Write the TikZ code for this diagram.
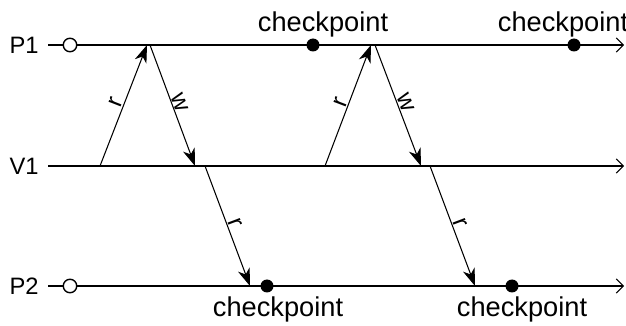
\documentclass[tikz,border=0pt]{standalone}
\usepackage{fontspec}
\setmainfont{Liberation Sans}
\usetikzlibrary{arrows.meta,positioning}

\begin{document}
\begin{tikzpicture}[
    proc/.style={
        font=\fontsize{13.5}{15}\selectfont,
        anchor=east,
        inner xsep=0.18cm,
        inner ysep=0pt
    },
    timeline/.style={
        -{Straight Barb[length=4pt,width=8pt]},
        line width=0.6pt
    },
    msg/.style={
        -{Stealth[length=10pt,width=7pt,inset=3pt]},
        line width=0.6pt
    },
    msglabel/.style={
        font=\fontsize{14}{15}\selectfont,
        midway,
        above,
        sloped,
        inner sep=0.5pt
    },
    initstate/.style={
        circle,
        draw,
        fill=white,
        line width=0.8pt,
        minimum size=0.27cm,
        inner sep=0pt
    },
    cp/.style={
        circle,
        fill=black,
        minimum size=0.26cm,
        inner sep=0pt
    },
    cplabel/.style={
        font=\fontsize{15.5}{17}\selectfont,
        anchor=base,
        inner sep=0pt
    }
]

\useasboundingbox (0,0) rectangle (12.52,6.52);

% process names
\node[proc] (P1) at (0.96,5.62) {P1};
\node[proc] (V1) at (0.96,3.2) {V1};
\node[proc] (P2) at (0.96,0.8) {P2};

\coordinate (P1end) at (12.48,5.62);
\coordinate (V1end) at (12.48,3.2);
\coordinate (P2end) at (12.48,0.8);

\draw[timeline] (P1.east) -- (P1end);
\draw[timeline] (V1.east) -- (V1end);
\draw[timeline] (P2.east) -- (P2end);

% messages
\coordinate (r1s) at (2.0,3.2);
\coordinate (r1e) at (2.94,5.62);
\coordinate (w1s) at (3.0,5.62);
\coordinate (w1e) at (3.9,3.2);
\coordinate (r2s) at (4.1,3.2);
\coordinate (r2e) at (5.0,0.8);

\coordinate (r3s) at (6.5,3.2);
\coordinate (r3e) at (7.42,5.62);
\coordinate (w2s) at (7.5,5.62);
\coordinate (w2e) at (8.42,3.2);
\coordinate (r4s) at (8.6,3.2);
\coordinate (r4e) at (9.5,0.8);

\draw[msg] (r1s) -- node[msglabel] {r} (r1e);
\draw[msg] (w1s) -- node[msglabel] {w} (w1e);
\draw[msg] (r2s) -- node[msglabel] {r} (r2e);

\draw[msg] (r3s) -- node[msglabel] {r} (r3e);
\draw[msg] (w2s) -- node[msglabel] {w} (w2e);
\draw[msg] (r4s) -- node[msglabel] {r} (r4e);

% initial states
\node[initstate] (P1init) at (1.4,5.62) {};
\node[initstate] (P2init) at (1.4,0.8) {};

% checkpoints
\node[cp] (cpA) at (6.26,5.62) {};
\node[cp] (cpB) at (11.48,5.62) {};
\node[cp] (cpC) at (5.34,0.8) {};
\node[cp] (cpD) at (10.24,0.8) {};

\node[cplabel] (cpAlabel) at ([shift={(0.2,0.26)}]cpA) {checkpoint};
\node[cplabel] (cpBlabel) at ([shift={(-0.22,0.26)}]cpB) {checkpoint};
\node[cplabel] (cpClabel) at ([shift={(0.22,-0.62)}]cpC) {checkpoint};
\node[cplabel] (cpDlabel) at ([shift={(0.2,-0.62)}]cpD) {checkpoint};

\end{tikzpicture}
\end{document}
